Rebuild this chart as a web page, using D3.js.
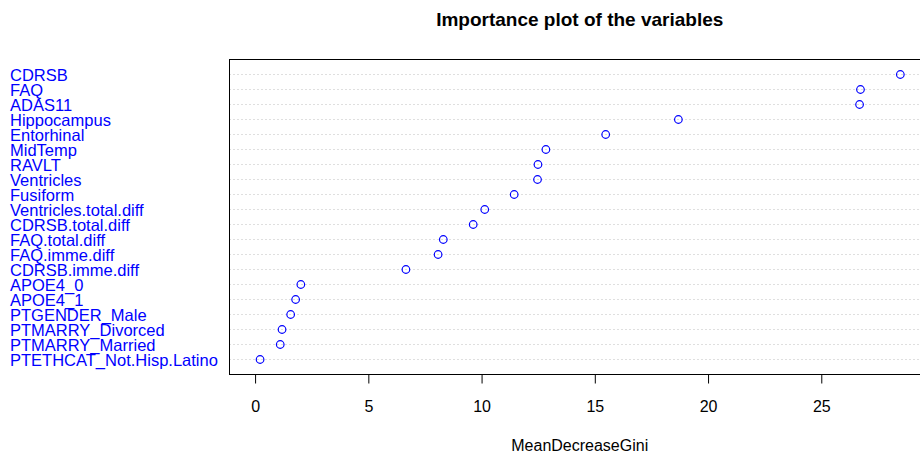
<!DOCTYPE html>
<html>
<head>
<meta charset="utf-8">
<script src="https://cdn.jsdelivr.net/npm/d3@7"></script>
<style>
  html, body { margin: 0; padding: 0; background: #ffffff; }
  svg { display: block; font-family: "Liberation Sans", Arial, Helvetica, sans-serif; }
</style>
</head>
<body>
<svg id="chart" width="920" height="458"></svg>
<script>
// Variable importance (random forest), listed top to bottom
const variables = [
  "CDRSB", "FAQ", "ADAS11", "Hippocampus", "Entorhinal", "MidTemp", "RAVLT",
  "Ventricles", "Fusiform", "Ventricles.total.diff", "CDRSB.total.diff",
  "FAQ.total.diff", "FAQ.imme.diff", "CDRSB.imme.diff", "APOE4_0", "APOE4_1",
  "PTGENDER_Male", "PTMARRY_Divorced", "PTMARRY_Married", "PTETHCAT_Not.Hisp.Latino"
];
const meanDecreaseGini = [
  28.49, 26.73, 26.69, 18.69, 15.48, 12.84, 12.49,
  12.47, 11.44, 10.14, 9.63,
  8.31, 8.08, 6.66, 2.02, 1.79,
  1.57, 1.19, 1.11, 0.22
];
const xTicks = [0, 5, 10, 15, 20, 25];
const chartTitle = "Importance plot of the variables";
const xTitle = "MeanDecreaseGini";

const svg = d3.select("#chart");
const plot = { left: 229.5, right: 930, top: 59.5, bottom: 374.5 };
const n = variables.length;

const x = d3.scaleLinear().domain([-1.13, 29.8]).range([plot.left, plot.right]);
// rows 1..n from bottom to top, as in a dot chart
const y = d3.scaleLinear().domain([0, n + 1]).range([plot.bottom, plot.top]);
const rowY = i => y(n - i);

const data = variables.map((v, i) => ({ name: v, value: meanDecreaseGini[i], i }));

// dotted guide lines
svg.append("g").selectAll("line").data(data).join("line")
  .attr("x1", plot.left).attr("x2", plot.right)
  .attr("y1", d => rowY(d.i)).attr("y2", d => rowY(d.i))
  .attr("stroke", "#bebebe").attr("stroke-width", 1)
  .attr("stroke-dasharray", "1,3");

// points
svg.append("g").selectAll("circle").data(data).join("circle")
  .attr("cx", d => x(d.value)).attr("cy", d => rowY(d.i))
  .attr("r", 3.8)
  .attr("fill", "none").attr("stroke", "#0000ff").attr("stroke-width", 1.2);

// variable labels
svg.append("g").selectAll("text").data(data).join("text")
  .attr("x", 10).attr("y", d => rowY(d.i) + 6)
  .attr("fill", "#0000ff").attr("font-size", 16.5)
  .text(d => d.name);

// plot frame
svg.append("rect")
  .attr("x", plot.left).attr("y", plot.top)
  .attr("width", plot.right - plot.left).attr("height", plot.bottom - plot.top)
  .attr("fill", "none").attr("stroke", "#000").attr("stroke-width", 1);

// bottom axis
const axis = d3.axisBottom(x).tickValues(xTicks).tickSize(9).tickPadding(17)
  .tickFormat(d3.format("d"));
const gx = svg.append("g").attr("transform", `translate(0,${plot.bottom})`).call(axis);
gx.select(".domain").remove();
gx.selectAll(".tick line").attr("stroke", "#000");
gx.selectAll(".tick text").attr("font-size", 16).attr("fill", "#000")
  .attr("font-family", "Liberation Sans, Arial, sans-serif");

// titles
const cx = (plot.left + plot.right) / 2;
svg.append("text").attr("x", cx).attr("y", 26).attr("text-anchor", "middle")
  .attr("font-size", 19).attr("font-weight", "bold").text(chartTitle);
svg.append("text").attr("x", cx).attr("y", 451).attr("text-anchor", "middle")
  .attr("font-size", 16).text(xTitle);
</script>
</body>
</html>
